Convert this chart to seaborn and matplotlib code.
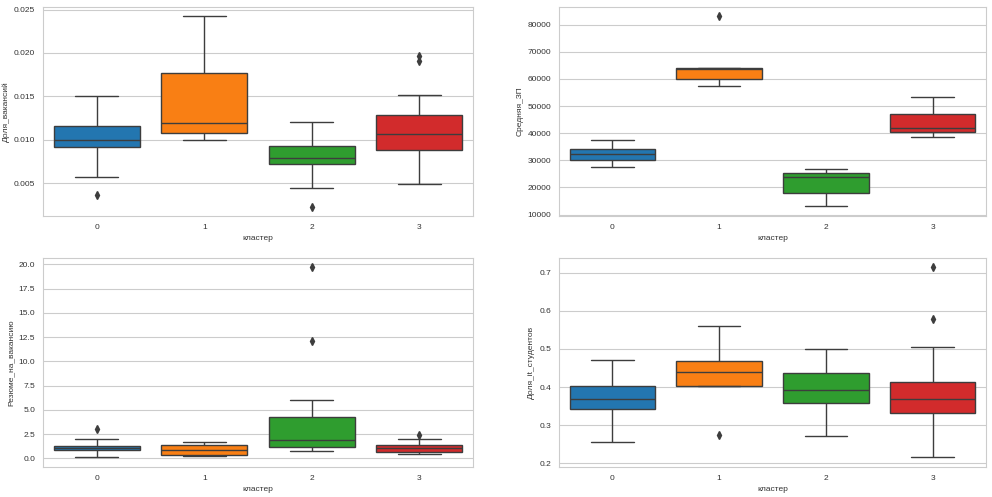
import matplotlib
matplotlib.use("Agg")
import matplotlib.pyplot as plt
import pandas as pd
import seaborn as sns

clusters = [0, 1, 2, 3]
colors = ["#1f77b4", "#ff7f0e", "#2ca02c", "#d62728"]

# Доля_вакансий, values per cluster
vac_0 = [0.00366, 0.00573, 0.00916, 0.00916, 0.00916, 0.00916, 0.0100, 0.0100, 0.0100,
         0.0116, 0.0116, 0.0116, 0.0116, 0.0150]
vac_1 = [0.0100, 0.01077, 0.01077, 0.01077, 0.01077, 0.01192, 0.01192, 0.01192,
         0.01772, 0.01772, 0.01772, 0.01772, 0.02425]
vac_2 = [0.00228, 0.00446, 0.0072, 0.0072, 0.0072, 0.0072, 0.00789, 0.00789, 0.00789,
         0.00927, 0.00927, 0.00927, 0.00927, 0.0120]
vac_3 = [0.00489, 0.0088, 0.0088, 0.0088, 0.0088, 0.01061, 0.01061, 0.01061,
         0.0128, 0.0128, 0.0128, 0.0128, 0.01512, 0.0191, 0.0196]

# Средняя_ЗП
zp_0 = [27400, 30100, 30100, 30100, 30100, 32350, 32350, 32350,
        34200, 34200, 34200, 34200, 37400]
zp_1 = [57400, 59900, 59900, 59900, 59900, 63600, 63600, 63600,
        63950, 63950, 63950, 63950, 63950, 83200]
zp_2 = [13100, 17800, 17800, 17800, 17800, 23700, 23700, 23700,
        25430, 25430, 25430, 25430, 26700]
zp_3 = [38640, 40370, 40370, 40370, 40370, 41850, 41850, 41850,
        46900, 46900, 46900, 46900, 53200]

# Резюме_на_вакансию
rez_0 = [0.12, 0.82, 0.82, 0.82, 0.82, 1.03, 1.03, 1.03, 1.31, 1.31, 1.31, 1.31, 1.96, 3.02]
rez_1 = [0.20, 0.38, 0.38, 0.38, 0.38, 0.89, 0.89, 0.89, 1.34, 1.34, 1.34, 1.34, 1.72]
rez_2 = [0.76, 1.13, 1.13, 1.13, 1.13, 1.89, 1.89, 1.89, 4.23, 4.23, 4.23, 4.23, 6.05,
         12.1, 19.72]
rez_3 = [0.45, 0.69, 0.69, 0.69, 0.69, 1.10, 1.10, 1.10, 1.34, 1.34, 1.34, 1.34, 1.96, 2.40]

# Доля_it_студентов
it_0 = [0.256, 0.343, 0.343, 0.343, 0.343, 0.3675, 0.3675, 0.3675,
        0.4035, 0.4035, 0.4035, 0.4035, 0.471]
it_1 = [0.2737, 0.4026, 0.4026, 0.4026, 0.4026, 0.4026, 0.4395, 0.4395, 0.4395,
        0.4675, 0.4675, 0.4675, 0.4675, 0.5596]
it_2 = [0.272, 0.359, 0.359, 0.359, 0.359, 0.391, 0.391, 0.391,
        0.436, 0.436, 0.436, 0.436, 0.500]
it_3 = [0.216, 0.332, 0.332, 0.332, 0.332, 0.368, 0.368, 0.368,
        0.414, 0.414, 0.414, 0.414, 0.506, 0.578, 0.715]


def make_df(name, groups):
    rows = []
    for c, vals in zip(clusters, groups):
        for v in vals:
            rows.append({"кластер": c, name: v})
    return pd.DataFrame(rows)


panels = [
    ("Доля_вакансий", [vac_0, vac_1, vac_2, vac_3], (0.0012, 0.0253)),
    ("Средняя_ЗП", [zp_0, zp_1, zp_2, zp_3], (9400, 86500)),
    ("Резюме_на_вакансию", [rez_0, rez_1, rez_2, rez_3], (-0.9, 20.65)),
    ("Доля_it_студентов", [it_0, it_1, it_2, it_3], (0.1895, 0.739)),
]

positions = [
    [0.0433, 0.565, 0.4337, 0.421],
    [0.5635, 0.565, 0.4305, 0.421],
    [0.0433, 0.060, 0.4337, 0.421],
    [0.5635, 0.060, 0.4305, 0.421],
]

sns.set_style("whitegrid")
plt.rcParams["font.family"] = ["Liberation Sans", "DejaVu Sans"]

fig, axes = plt.subplots(2, 2, figsize=(9.92, 4.97), dpi=100)
for ax, (name, groups, ylim), pos in zip(axes.flat, panels, positions):
    df = make_df(name, groups)
    sns.boxplot(data=df, x="кластер", y=name, hue="кластер", palette=colors,
                legend=False, saturation=0.95, linecolor="#3d3d3d", linewidth=1,
                width=0.8, flierprops={"marker": "d", "markerfacecolor": "#3d3d3d",
                                       "markeredgecolor": "#3d3d3d", "markersize": 4},
                ax=ax)
    ax.set_position(pos)
    ax.set_ylim(*ylim)
    ax.tick_params(labelsize=6, pad=2, colors="#333333")
    ax.set_xlabel("кластер", fontsize=6, labelpad=3, color="#333333")
    ax.set_ylabel(name, fontsize=6, labelpad=3, color="#333333")
    for s in ax.spines.values():
        s.set_linewidth(0.8)

fig.savefig("out.png", dpi=100)
